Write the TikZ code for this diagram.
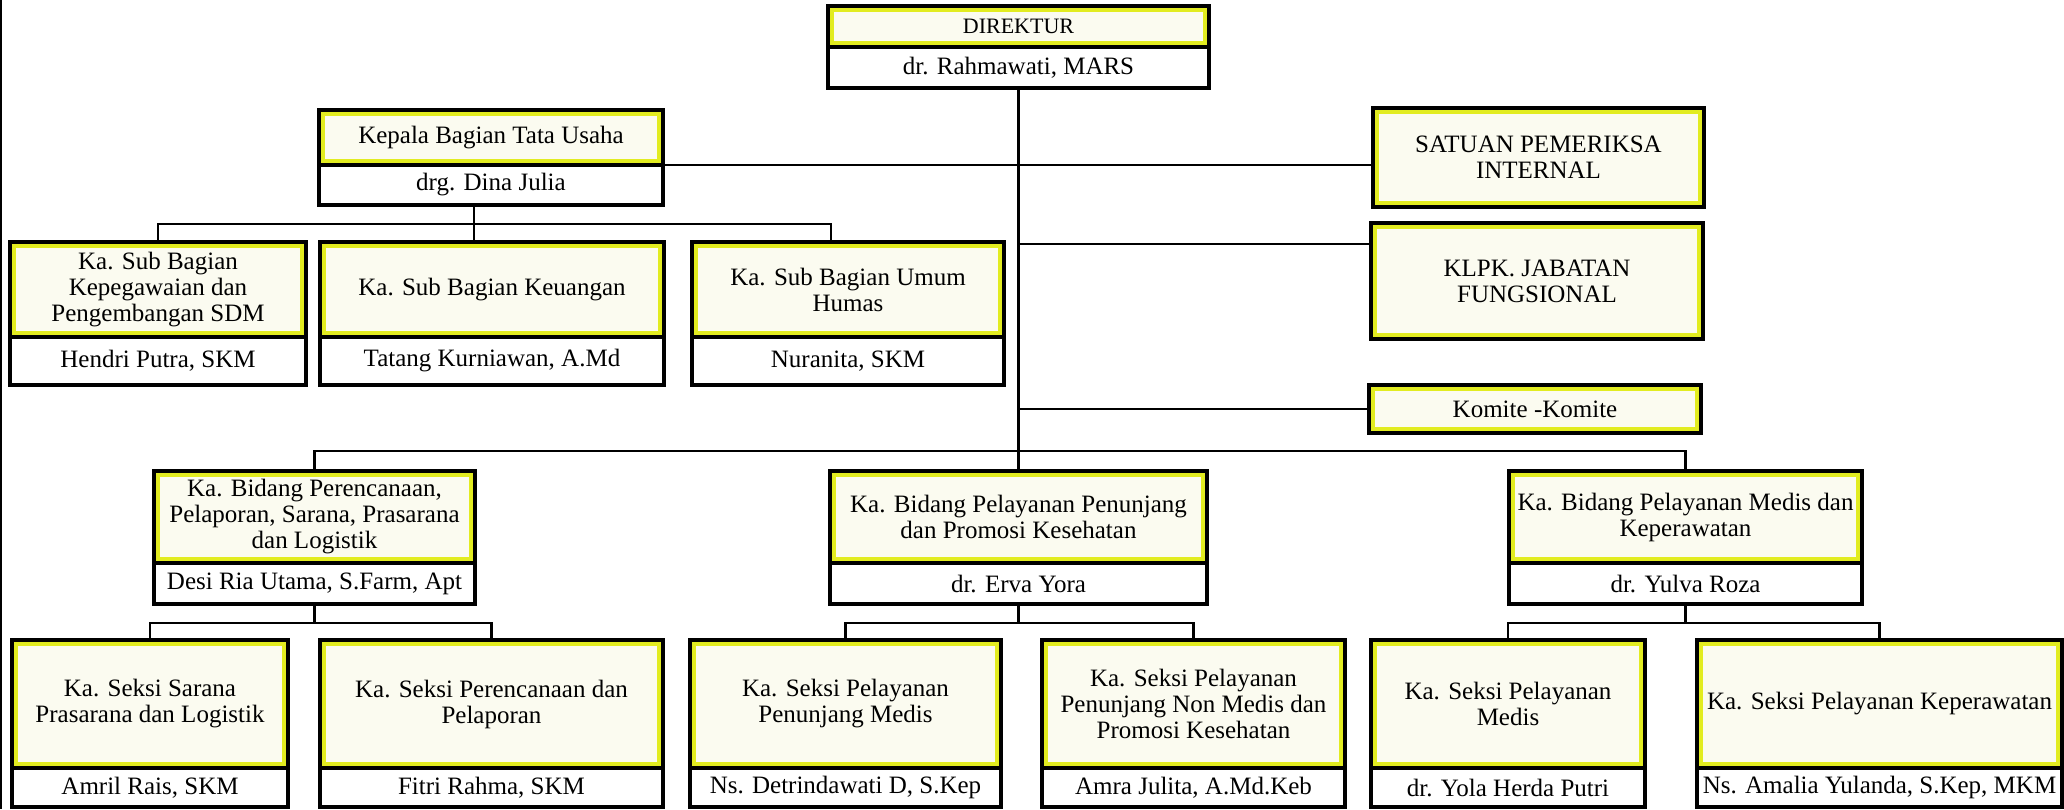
\documentclass[tikz,border=0pt]{standalone}
\usepackage{fontspec}
\setmainfont{Liberation Serif}
\usepackage{tikz}
\usetikzlibrary{positioning, calc}

\definecolor{kuning}{RGB}{226,236,32}
\definecolor{krem}{RGB}{251,251,240}

\tikzset{
  jabatan/.style={draw=black, line width=2pt, fill=krem, outer sep=0pt,
    inner xsep=1pt, inner ysep=2pt, align=center,
    font=\fontsize{12.5}{13}\selectfont,
    path picture={\draw[kuning, line width=6pt]
      (path picture bounding box.south west) rectangle
      (path picture bounding box.north east);}},
  pejabat/.style={draw=black, line width=2pt, fill=white, outer sep=0pt,
    inner xsep=1pt, inner ysep=1pt, align=center,
    font=\fontsize{12.5}{13}\selectfont},
  garis/.style={line width=1.4pt},
  cabang/.style={line width=1pt},
  anak/.style={line width=1.2pt}
}

\begin{document}
\begin{tikzpicture}[x=0.5pt, y=-0.5pt]
\useasboundingbox (0,0) rectangle (2064,809);
\fill[white] (0,0) rectangle (2064,809);
\draw[line width=1.2pt] (1,0) -- (1,809);

% direktur
\node[jabatan, anchor=north west, minimum width=190.5pt, minimum height=20.5pt,
  font=\fontsize{11}{13}\selectfont] (dir) at (828,6) {DIREKTUR};
\node[pejabat, below=0pt of dir, minimum width=190.5pt, minimum height=20.5pt]
  (dirp) {dr. Rahmawati, MARS};

% tata usaha
\node[jabatan, anchor=north west, minimum width=172pt, minimum height=27.5pt]
  (kabag) at (319,110) {Kepala Bagian Tata Usaha};
\node[pejabat, below=0pt of kabag, minimum width=172pt, minimum height=20pt]
  (kabagp) {drg. Dina Julia};

\node[jabatan, anchor=north west, minimum width=148pt, minimum height=47.5pt]
  (sbpeg) at (10,242) {Ka. Sub Bagian\\Kepegawaian dan\\Pengembangan SDM};
\node[pejabat, below=0pt of sbpeg, minimum width=148pt, minimum height=24pt]
  (sbpegp) {Hendri Putra, SKM};
\node[jabatan, anchor=north west, minimum width=172pt, minimum height=47.5pt]
  (sbkeu) at (320,242) {Ka. Sub Bagian Keuangan};
\node[pejabat, below=0pt of sbkeu, minimum width=172pt, minimum height=24pt]
  (sbkeup) {Tatang Kurniawan, A.Md};
\node[jabatan, anchor=north west, minimum width=156pt, minimum height=47.5pt]
  (sbumum) at (692,242) {Ka. Sub Bagian Umum\\Humas};
\node[pejabat, below=0pt of sbumum, minimum width=156pt, minimum height=24pt]
  (sbumump) {Nuranita, SKM};

% staf kanan
\node[jabatan, anchor=north west, minimum width=165.5pt, minimum height=49.5pt]
  (spi) at (1373,108) {SATUAN PEMERIKSA\\INTERNAL};
\node[jabatan, anchor=north west, minimum width=166pt, minimum height=58pt]
  (klpk) at (1371,223) {KLPK. JABATAN\\FUNGSIONAL};
\node[jabatan, anchor=north west, minimum width=166pt, minimum height=24pt]
  (komite) at (1369,385) {Komite -Komite};

% bidang
\node[jabatan, anchor=north west, minimum width=160.5pt, minimum height=46pt]
  (bidren) at (154,471) {Ka. Bidang Perencanaan,\\Pelaporan, Sarana, Prasarana\\dan Logistik};
\node[pejabat, below=0pt of bidren, minimum width=160.5pt, minimum height=20.5pt]
  (bidrenp) {Desi Ria Utama, S.Farm, Apt};
\node[jabatan, anchor=north west, minimum width=188.5pt, minimum height=46pt]
  (bidpen) at (830,471) {Ka. Bidang Pelayanan Penunjang\\dan Promosi Kesehatan};
\node[pejabat, below=0pt of bidpen, minimum width=188.5pt, minimum height=20.5pt]
  (bidpenp) {dr. Erva Yora};
\node[jabatan, anchor=north west, minimum width=176.5pt, minimum height=46pt]
  (bidmed) at (1509,471) {Ka. Bidang Pelayanan Medis dan\\Keperawatan};
\node[pejabat, below=0pt of bidmed, minimum width=176.5pt, minimum height=20.5pt]
  (bidmedp) {dr. Yulva Roza};

% seksi
\node[jabatan, anchor=north west, minimum width=138pt, minimum height=64pt]
  (sksar) at (12,640) {Ka. Seksi Sarana\\Prasarana dan Logistik};
\node[pejabat, below=0pt of sksar, minimum width=138pt, minimum height=19.5pt]
  (sksarp) {Amril Rais, SKM};
\node[jabatan, anchor=north west, minimum width=171.5pt, minimum height=64pt]
  (skren) at (320,640) {Ka. Seksi Perencanaan dan\\Pelaporan};
\node[pejabat, below=0pt of skren, minimum width=171.5pt, minimum height=19.5pt]
  (skrenp) {Fitri Rahma, SKM};
\node[jabatan, anchor=north west, minimum width=155.5pt, minimum height=64pt]
  (skpm) at (690,640) {Ka. Seksi Pelayanan\\Penunjang Medis};
\node[pejabat, below=0pt of skpm, minimum width=155.5pt, minimum height=19.5pt]
  (skpmp) {Ns. Detrindawati D, S.Kep};
\node[jabatan, anchor=north west, minimum width=151.5pt, minimum height=64pt]
  (sknm) at (1042,640) {Ka. Seksi Pelayanan\\Penunjang Non Medis dan\\Promosi Kesehatan};
\node[pejabat, below=0pt of sknm, minimum width=151.5pt, minimum height=19.5pt]
  (sknmp) {Amra Julita, A.Md.Keb};
\node[jabatan, anchor=north west, minimum width=137pt, minimum height=64pt]
  (skmed) at (1371,640) {Ka. Seksi Pelayanan\\Medis};
\node[pejabat, below=0pt of skmed, minimum width=137pt, minimum height=19.5pt]
  (skmedp) {dr. Yola Herda Putri};
\node[jabatan, anchor=north west, minimum width=182.5pt, minimum height=64pt]
  (skkep) at (1697,640) {Ka. Seksi Pelayanan Keperawatan};
\node[pejabat, below=0pt of skkep, minimum width=182.5pt, minimum height=19.5pt]
  (skkepp) {Ns. Amalia Yulanda, S.Kep, MKM};

% garis
\coordinate (tubus) at (0,224);
\coordinate (bus) at (0,451);
\coordinate (sub) at (0,623);
\coordinate (kabagout) at ([xshift=-8.5pt]kabagp.south);
\coordinate (umumin) at ([xshift=-8.5pt]sbumum.north);
\coordinate (klpkin) at ([yshift=-10.5pt]klpk.north west);

\draw[garis] (dirp.south) -- (bidpen.north);
\draw[garis] (bidren.north) |- (bus -| bidmed.north) -- (bidmed.north);
\draw[cabang] (kabag.south east) -- (kabag.south east -| spi.west);
\draw[cabang] (klpkin) -- (klpkin -| dirp.south);
\draw[cabang] (komite.west) -- (komite.west -| dirp.south);

\draw[cabang] (kabagout) -- (kabagout |- sbkeu.north);
\draw[cabang] (sbpeg.north) |- (tubus -| umumin) -- (umumin);

\foreach \b/\l/\r in {bidrenp/sksar/skren, bidpenp/skpm/sknm, bidmedp/skmed/skkep}{
  \draw[anak] (\b.south) -- (\b.south |- sub);
  \draw[anak] (\l.north) |- (sub -| \r.north) -- (\r.north);
}

%\draw[step=50,color=gray] (0,0) grid (2064,809);
\end{tikzpicture}
\end{document}
